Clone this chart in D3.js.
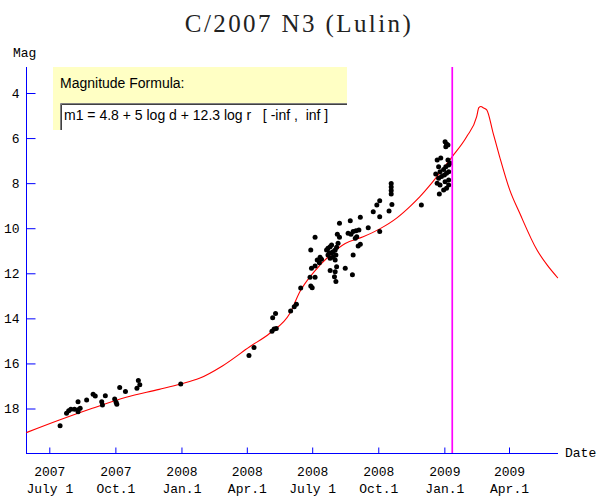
<!DOCTYPE html>
<html>
<head>
<meta charset="utf-8">
<script src="https://cdn.jsdelivr.net/npm/d3@7"></script>
<style>
  html, body { margin: 0; padding: 0; background: #fff; }
  svg { display: block; }
  .mono { font-family: "Liberation Mono", "DejaVu Sans Mono", monospace; font-size: 13px; fill: #000; }
  .sans { font-family: "Liberation Sans", Arial, sans-serif; font-size: 14px; fill: #000; white-space: pre; }
</style>
</head>
<body>
<svg id="chart" width="598" height="497"></svg>
<script>
// Comet C/2007 N3 (Lulin): observed magnitudes and predicted light curve

const title = "C/2007 N3 (Lulin)";
const formulaHeading = "Magnitude Formula:";
const formulaText = "m1 = 4.8 + 5 log d + 12.3 log r   [ -inf ,  inf ]";

// Predicted total magnitude (date, mag)
const curveDates = [
  "2007-05-30","2007-07-15","2007-08-30","2007-10-16","2007-12-01","2007-12-31",
  "2008-01-26","2008-02-27","2008-04-05","2008-05-03","2008-05-31","2008-06-14",
  "2008-07-03","2008-07-26","2008-08-16","2008-09-10","2008-10-03","2008-10-27",
  "2008-11-14","2008-11-28","2008-12-12","2008-12-26","2009-01-12","2009-02-01",
  "2009-02-15","2009-02-18","2009-02-21","2009-02-24","2009-03-01","2009-03-10",
  "2009-03-19","2009-04-02","2009-04-16","2009-05-10","2009-05-24","2009-06-08"
];
const curveMags = [
  19.07,18.51,17.99,17.50,17.15,16.91,
  16.66,16.11,15.26,14.66,13.77,12.81,
  11.96,11.19,10.68,10.38,10.03,9.54,
  9.04,8.60,8.09,7.53,6.82,5.94,
  5.05,4.65,4.60,4.65,4.75,5.79,
  6.83,8.30,9.34,10.97,11.63,12.21
];

// Observations (date, mag)
const obsDates = [
  "2007-07-16","2007-07-25","2007-07-28","2007-07-31","2007-08-05","2007-08-10",
  "2007-08-10","2007-08-10","2007-08-13","2007-08-22","2007-08-31","2007-09-03",
  "2007-09-12","2007-09-13","2007-09-17","2007-09-30","2007-10-02","2007-10-03",
  "2007-10-07","2007-10-15","2007-10-31","2007-11-02","2007-11-04","2007-12-31",
  "2008-04-04","2008-04-11","2008-05-06","2008-05-09","2008-05-12","2008-05-07",
  "2008-05-11","2008-06-01","2008-06-06","2008-06-09","2008-06-15",
  "2008-06-29","2008-07-01","2008-06-28","2008-07-05","2008-06-30","2008-07-05",
  "2008-07-08","2008-07-12","2008-07-14","2008-07-11","2008-06-29","2008-07-05",
  "2008-07-21","2008-07-23","2008-07-26","2008-07-28","2008-07-25","2008-07-28",
  "2008-07-30","2008-08-02","2008-08-04","2008-08-06","2008-08-03","2008-07-30",
  "2008-07-26","2008-08-02","2008-07-23",
  "2008-08-08","2008-08-05","2008-08-08","2008-07-26","2008-08-02","2008-08-04",
  "2008-08-01","2008-08-03","2008-08-16","2008-08-23","2008-08-20","2008-08-24",
  "2008-08-27","2008-08-31","2008-09-04","2008-09-01","2008-08-30","2008-08-27",
  "2008-09-06","2008-09-06","2008-09-03","2008-08-26","2008-09-17","2008-10-03",
  "2008-09-24","2008-09-29","2008-10-03","2008-10-03","2008-10-16","2008-10-20",
  "2008-10-19","2008-10-19","2008-10-19","2008-10-19","2008-11-30",
  "2009-01-02","2009-01-04","2009-01-03","2009-01-06","2008-12-22","2008-12-24",
  "2008-12-20","2008-12-26","2008-12-31","2009-01-03","2009-01-07","2009-01-09",
  "2008-12-24","2008-12-28","2009-01-01","2009-01-04","2009-01-07","2008-12-22",
  "2008-12-26","2009-01-02","2009-01-07","2008-12-25","2008-12-31","2009-01-04",
  "2009-01-07","2008-12-27","2009-01-06"
];
const obsMags = [
  18.76,18.21,18.10,18.03,18.03,18.06,
  18.14,17.70,17.99,17.62,17.37,17.44,
  17.70,17.84,17.43,17.58,17.72,17.81,
  17.07,17.25,17.10,16.76,16.95,16.91,
  15.65,15.29,14.57,14.47,14.45,13.97,
  13.79,13.67,13.48,13.37,12.65,
  12.56,12.64,12.18,12.18,11.78,11.68,
  11.41,11.29,11.38,11.53,10.97,10.40,
  10.97,10.89,10.82,10.74,11.09,11.11,
  11.04,10.97,10.85,10.67,11.19,11.29,
  11.33,11.41,11.19,
  9.78,10.27,10.40,11.88,11.93,11.71,
  12.15,12.37,11.78,9.67,10.22,10.27,
  10.15,10.11,10.08,10.38,10.45,11.19,
  9.51,10.71,10.79,12.07,9.98,10.15,
  9.27,8.97,8.78,9.49,9.24,8.95,
  8.02,8.17,8.33,8.48,8.97,
  6.16,6.26,6.38,6.31,6.97,7.27,
  7.59,7.49,7.39,7.27,7.19,7.12,
  7.78,7.71,7.64,7.56,7.49,8.01,
  8.08,7.94,7.86,8.48,8.30,8.23,
  8.08,6.88,6.97
];

// Current date marker
const todayDate = "2009-01-12";

// Axis ticks
const yTicks = [4, 6, 8, 10, 12, 14, 16, 18];
const xTickDates = ["2007-07-01","2007-10-01","2008-01-01","2008-04-01","2008-07-01","2008-10-01","2009-01-01","2009-04-01"];
const xTickYears = ["2007","2007","2008","2008","2008","2008","2009","2009"];
const xTickNames = ["July 1","Oct.1","Jan.1","Apr.1","July 1","Oct.1","Jan.1","Apr.1"];

const parse = d3.timeParse("%Y-%m-%d");
const svg = d3.select("#chart");

const plot = { left: 26, right: 558, top: 67, bottom: 453 };

const x = d3.scaleTime()
  .domain([parse("2007-07-01"), parse("2009-04-01")])
  .range([49.3, 509]);
const y = d3.scaleLinear().domain([4, 18]).range([93, 408.5]);

// Title
svg.append("text")
  .attr("x", 299).attr("y", 32)
  .attr("text-anchor", "middle")
  .style("font-family", "'Liberation Serif', 'Times New Roman', serif")
  .style("font-size", "25px")
  .style("letter-spacing", "2.4px")
  .style("fill", "#222")
  .text(title);

// Axis titles
svg.append("text").attr("class", "mono").attr("x", 13).attr("y", 57).text("Mag");
svg.append("text").attr("class", "mono").attr("x", 565).attr("y", 457).text("Date");

// Formula panel
const panel = svg.append("g");
panel.append("rect").attr("x", 53).attr("y", 67).attr("width", 294).attr("height", 63).attr("fill", "#FFFFC4");
panel.append("rect").attr("x", 60).attr("y", 103).attr("width", 287).attr("height", 27).attr("fill", "#fff");
panel.append("path").attr("d", "M60.5,130V103.5H347").attr("fill", "none").attr("stroke", "#808080").attr("stroke-width", 1);
panel.append("path").attr("d", "M61.5,130V104.5H347").attr("fill", "none").attr("stroke", "#404040").attr("stroke-width", 1);
panel.append("text").attr("class", "sans").attr("x", 60).attr("y", 88).text(formulaHeading);
panel.append("text").attr("class", "sans").attr("x", 64).attr("y", 120).text(formulaText);

// Axis lines
svg.append("line")
  .attr("x1", plot.left + 0.5).attr("x2", plot.left + 0.5)
  .attr("y1", plot.top).attr("y2", plot.bottom + 0.5)
  .attr("stroke", "#0000ff");
svg.append("line")
  .attr("x1", plot.left).attr("x2", plot.right)
  .attr("y1", plot.bottom + 0.5).attr("y2", plot.bottom + 0.5)
  .attr("stroke", "#0000ff");

// Y axis ticks and labels
const yAxis = d3.axisLeft(y).tickValues(yTicks).tickSizeInner(-9).tickSizeOuter(0).tickPadding(7).tickFormat(d3.format("d"));
const gy = svg.append("g").attr("transform", `translate(${plot.left + 0.5},0)`).call(yAxis);
gy.select(".domain").remove();
gy.selectAll(".tick line").attr("stroke", "#0000ff");
gy.selectAll(".tick text").attr("class", "mono").attr("font-family", null).attr("font-size", null).attr("fill", null);

// X axis ticks and two-line labels
const xAxis = d3.axisBottom(x).tickValues(xTickDates.map(parse)).tickSizeInner(-6).tickSizeOuter(0).tickFormat("");
const gx = svg.append("g").attr("transform", `translate(0,${plot.bottom + 0.5})`).call(xAxis);
gx.select(".domain").remove();
gx.selectAll(".tick line").attr("stroke", "#0000ff");
gx.selectAll(".tick text").remove();
gx.selectAll(".tick").each(function(d, i) {
  const t = d3.select(this).append("text").attr("class", "mono").attr("text-anchor", "middle");
  t.append("tspan").attr("x", 0).attr("y", 22).text(xTickYears[i]);
  t.append("tspan").attr("x", 0).attr("y", 39).text(xTickNames[i]);
});

// Predicted light curve
const curve = curveDates.map((d, i) => ({ date: parse(d), mag: curveMags[i] }));
svg.append("path")
  .datum(curve)
  .attr("fill", "none")
  .attr("stroke", "#ff0000")
  .attr("stroke-width", 1.1)
  .attr("d", d3.line().x(d => x(d.date)).y(d => y(d.mag)).curve(d3.curveMonotoneX));

// Observations
const obs = obsDates.map((d, i) => ({ date: parse(d), mag: obsMags[i] }));
svg.append("g").selectAll("circle")
  .data(obs)
  .join("circle")
  .attr("cx", d => x(d.date))
  .attr("cy", d => y(d.mag))
  .attr("r", 2.5)
  .attr("fill", "#000");

// Current date marker
svg.append("line")
  .attr("x1", x(parse(todayDate))).attr("x2", x(parse(todayDate)))
  .attr("y1", plot.top).attr("y2", plot.bottom)
  .attr("stroke", "#ff00ff").attr("stroke-width", 1.7);
</script>
</body>
</html>
